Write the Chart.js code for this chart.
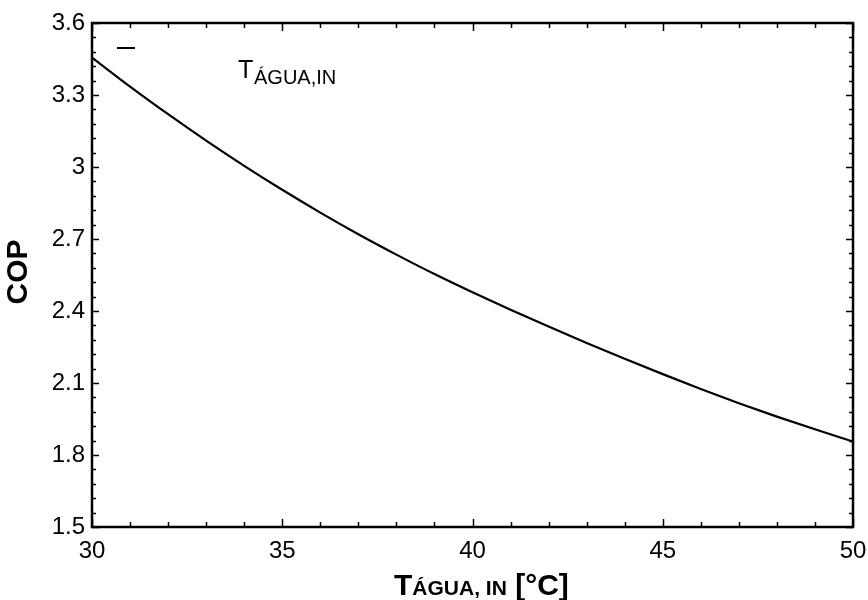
<!DOCTYPE html>
<html>
<head>
<meta charset="utf-8">
<script src="https://cdn.jsdelivr.net/npm/chart.js@4"></script>
<style>
  body { margin: 0; background: #fff; }
  #box { width: 868px; height: 600px; }
</style>
</head>
<body>
<div id="box"><canvas id="grafico" width="868" height="600"></canvas></div>
<script>
// dados: COP x temperatura da água na entrada
const T_AGUA = [30, 31, 32, 33, 34, 35, 36, 37, 38, 39, 40, 41, 42, 43, 44, 45, 46, 47, 48, 49, 50];
const COP = [3.456, 3.335, 3.220, 3.110, 3.005, 2.905, 2.810, 2.720, 2.635, 2.554, 2.478, 2.405, 2.335, 2.267, 2.201, 2.137, 2.075, 2.016, 1.960, 1.907, 1.856];

const X_TICKS = [30, 35, 40, 45, 50];
const Y_TICKS = [1.5, 1.8, 2.1, 2.4, 2.7, 3.0, 3.3, 3.6];

const FONTE = "'Liberation Sans', Arial, sans-serif";

// desenha moldura, ticks internos, títulos e a "legenda"
const moldura = {
    id: 'moldura',
    afterDraw(chart) {
        const ctx = chart.ctx;
        const a = chart.chartArea;
        const sx = chart.scales.x;
        const sy = chart.scales.y;
        ctx.save();
        ctx.strokeStyle = '#000';
        ctx.lineWidth = 1.5;

        // ticks do eixo x (1 em 1, maiores a cada 5)
        for (let v = X_TICKS[0]; v <= X_TICKS[X_TICKS.length - 1]; v++) {
            const px = Math.round(sx.getPixelForValue(v)) + 0.5;
            const len = X_TICKS.includes(v) ? 8 : 5;
            ctx.beginPath();
            ctx.moveTo(px, a.bottom); ctx.lineTo(px, a.bottom - len);
            ctx.moveTo(px, a.top); ctx.lineTo(px, a.top + len);
            ctx.stroke();
        }
        // ticks do eixo y (0.06, maiores a cada 0.3)
        for (let i = 0; i <= 35; i++) {
            const v = Y_TICKS[0] + i * 0.06;
            const py = Math.round(sy.getPixelForValue(v)) + 0.5;
            const len = i % 5 === 0 ? 7 : 4;
            ctx.beginPath();
            ctx.moveTo(a.left, py); ctx.lineTo(a.left + len, py);
            ctx.moveTo(a.right, py); ctx.lineTo(a.right - len, py);
            ctx.stroke();
        }

        ctx.lineWidth = 2.5;
        ctx.strokeRect(a.left, a.top, a.right - a.left, a.bottom - a.top);

        // legenda
        ctx.fillStyle = '#000';
        ctx.lineWidth = 2;
        ctx.beginPath();
        ctx.moveTo(117, 48); ctx.lineTo(135, 48);
        ctx.stroke();
        ctx.textBaseline = 'alphabetic';
        ctx.textAlign = 'left';
        ctx.font = '25px ' + FONTE;
        ctx.fillText('T', 238, 78);
        ctx.font = '20px ' + FONTE;
        ctx.fillText('ÁGUA,IN', 254, 84);

        // título eixo x
        const partes = [
            { t: 'T', f: 'bold 30px ' + FONTE },
            { t: 'ÁGUA, IN', f: 'bold 21px ' + FONTE },
            { t: ' [°C]', f: 'bold 30px ' + FONTE }
        ];
        let total = 0;
        partes.forEach(p => { ctx.font = p.f; p.w = ctx.measureText(p.t).width; total += p.w; });
        let x = 394;
        partes.forEach(p => { ctx.font = p.f; ctx.fillText(p.t, x, 595); x += p.w; });

        // título eixo y
        ctx.translate(19, 272);
        ctx.rotate(-Math.PI / 2);
        ctx.textAlign = 'center';
        ctx.textBaseline = 'middle';
        ctx.font = 'bold 30px ' + FONTE;
        ctx.fillText('COP', 0, 0);
        ctx.restore();
    }
};

new Chart(document.getElementById('grafico').getContext('2d'), {
    type: 'line',
    data: {
        labels: T_AGUA,
        datasets: [{
            label: 'COP',
            data: T_AGUA.map((t, i) => ({ x: t, y: COP[i] })),
            borderColor: '#000',
            borderWidth: 2.2,
            pointRadius: 0,
            fill: false,
            cubicInterpolationMode: 'monotone'
        }]
    },
    options: {
        responsive: false,
        animation: false,
        layout: { padding: { top: 23, right: 15, left: 0, bottom: 0 } },
        plugins: { legend: { display: false }, tooltip: { enabled: false } },
        scales: {
            x: {
                type: 'linear',
                min: 30, max: 50,
                grid: { display: false, drawTicks: false },
                border: { display: false },
                afterBuildTicks: s => { s.ticks = X_TICKS.map(v => ({ value: v })); },
                afterFit: s => { s.height = 73; s.paddingLeft = 0; s.paddingRight = 0; },
                ticks: { color: '#000', padding: 10, font: { family: FONTE, size: 24 } }
            },
            y: {
                min: 1.5, max: 3.6,
                grid: { display: false, drawTicks: false },
                border: { display: false },
                afterBuildTicks: s => { s.ticks = Y_TICKS.map(v => ({ value: v })); },
                afterFit: s => { s.width = 92; s.paddingTop = 0; s.paddingBottom = 0; },
                ticks: {
                    color: '#000', padding: 7, font: { family: FONTE, size: 24 },
                    callback: v => String(Number(v.toFixed(1)))
                }
            }
        }
    },
    plugins: [moldura]
});
</script>
</body>
</html>
